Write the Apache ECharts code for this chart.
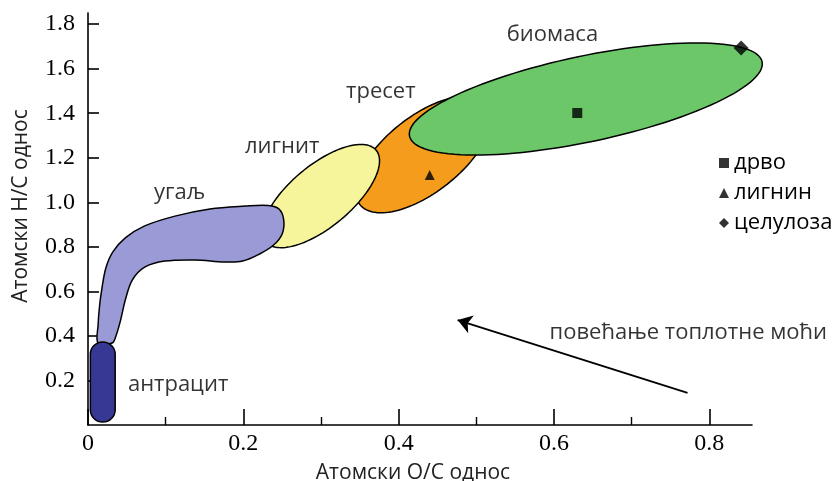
<!DOCTYPE html>
<html>
<head>
<meta charset="utf-8">
<script src="https://cdn.jsdelivr.net/npm/echarts@6/dist/echarts.min.js"></script>
<style>
html,body{margin:0;padding:0;background:#fff;}
#chart{width:840px;height:481px;}
</style>
</head>
<body>
<div id="chart"></div>
<script>
// ---- axis ticks ----
const xTicks = [0, 0.2, 0.4, 0.6, 0.8];
const xMinorTicks = [0.1, 0.3, 0.5, 0.7];
const yTicks = [0.2, 0.4, 0.6, 0.8, 1.0, 1.2, 1.4, 1.6, 1.8];

// ---- elliptical regions (O/C, H/C): centre and end of the long axis, width ratio ----
const ellipseNames = ['тресет', 'биомаса', 'лигнит'];
const ellipseCenterX = [0.432, 0.641, 0.300];
const ellipseCenterY = [1.215, 1.464, 1.028];
const ellipseTipX = [0.514, 0.868, 0.371];
const ellipseTipY = [1.440, 1.631, 1.234];
const ellipseWidthRatio = [0.47, 0.238, 0.43];

// ---- coal (угаљ) band outline ----
const coalX = [0.013, 0.013, 0.015, 0.018, 0.023, 0.032, 0.048, 0.073, 0.112, 0.157, 0.202, 0.232, 0.246, 0.252, 0.250, 0.239, 0.221, 0.199, 0.176, 0.138, 0.099, 0.073, 0.057, 0.048, 0.042, 0.036, 0.031];
const coalY = [0.368, 0.449, 0.539, 0.615, 0.705, 0.777, 0.840, 0.894, 0.938, 0.970, 0.983, 0.986, 0.970, 0.921, 0.858, 0.808, 0.768, 0.736, 0.732, 0.741, 0.736, 0.709, 0.651, 0.561, 0.471, 0.400, 0.368];

// ---- anthracite (антрацит) range ----
const anthraciteX = [0.003, 0.035];
const anthraciteY = [0.013, 0.373];

// ---- reference compounds ----
const compoundNames = ['дрво', 'лигнин', 'целулоза'];
const compoundX = [0.630, 0.440, 0.841];
const compoundY = [1.401, 1.123, 1.693];

// ---- region labels ----
const regionLabels = ['биомаса', 'тресет', 'лигнит', 'угаљ', 'антрацит', 'повећање топлотне моћи'];
const regionLabelX = [0.598, 0.377, 0.250, 0.118, 0.116, 0.773];
const regionLabelY = [1.751, 1.495, 1.248, 1.042, 0.180, 0.413];

// ---- arrow (tail -> head) ----
const arrowX = [0.772, 0.476];
const arrowY = [0.144, 0.471];

// ---- styles ----
const ellipseFills = ['#F59C1D', '#6CC768', '#F7F59C'];
const coalFill = '#9A9AD6';
const anthraciteFill = '#373794';
const compoundSymbols = ['rect', 'triangle', 'diamond'];
const compoundSizes = [10, 10, 15];
const sansFont = '"Open Sans", "Noto Sans", sans-serif';
const serifFont = '"Liberation Serif", "DejaVu Serif", serif';

const chart = echarts.init(document.getElementById('chart'), null, {renderer: 'canvas'});

const ellipseData = ellipseNames.map((n, i) => ({
  name: n,
  value: [ellipseCenterX[i], ellipseCenterY[i], ellipseTipX[i], ellipseTipY[i], ellipseWidthRatio[i]]
}));

const compoundSeries = compoundNames.map((n, i) => ({
  name: n,
  type: 'scatter',
  symbol: compoundSymbols[i],
  symbolSize: compoundSizes[i],
  itemStyle: {color: '#000'},
  data: [[compoundX[i], compoundY[i]]],
  z: 10
}));

const option = {
  animation: false,
  backgroundColor: '#fff',
  grid: {left: 88, right: 88, top: 13, bottom: 56, containLabel: false, outerBoundsMode: 'none'},
  legend: {
    data: compoundNames.map((n, i) => ({name: n, icon: compoundSymbols[i]})),
    orient: 'vertical',
    left: 714,
    top: 147,
    itemWidth: 10,
    itemHeight: 10,
    itemGap: 8,
    itemTextGap: 9,
    selectedMode: false,
    textStyle: {fontFamily: sansFont, fontSize: 22, color: '#000'}
  },
  xAxis: [{
    type: 'value',
    min: 0,
    max: 0.855,
    name: 'Атомски О/С однос',
    nameLocation: 'middle',
    nameGap: 38,
    nameTextStyle: {fontFamily: sansFont, fontSize: 21, color: '#222', padding: [0, 14, 0, 0]},
    axisLine: {show: true, lineStyle: {color: '#000', width: 1.6}},
    axisTick: {show: true, inside: true, length: 16, customValues: xTicks, lineStyle: {color: '#000', width: 1.6}},
    axisLabel: {
      customValues: xTicks,
      margin: 7,
      fontFamily: serifFont, fontSize: 24, color: '#000',
      formatter: v => (v === 0 ? '0' : v.toFixed(1))
    },
    splitLine: {show: false}
  }, {
    type: 'value',
    min: 0,
    max: 0.855,
    position: 'bottom',
    axisLine: {show: false},
    axisTick: {show: true, inside: true, length: 8, customValues: xMinorTicks, lineStyle: {color: '#000', width: 1.4}},
    axisLabel: {show: false},
    splitLine: {show: false}
  }],
  yAxis: {
    type: 'value',
    min: 0,
    max: 1.85,
    name: 'Атомски Н/С однос',
    nameLocation: 'middle',
    nameRotate: 90,
    nameGap: 56,
    nameTextStyle: {fontFamily: sansFont, fontSize: 21, color: '#222', padding: [0, 0, 0, 26]},
    axisLine: {show: true, lineStyle: {color: '#000', width: 1.6}},
    axisTick: {show: true, inside: true, length: 11, customValues: yTicks, lineStyle: {color: '#000', width: 1.6}},
    axisLabel: {
      customValues: yTicks,
      margin: 13,
      fontFamily: serifFont, fontSize: 24, color: '#000',
      formatter: v => v.toFixed(1)
    },
    splitLine: {show: false}
  },
  series: [
    {
      name: 'regions',
      type: 'custom',
      coordinateSystem: 'cartesian2d',
      encode: {x: [0, 2], y: [1, 3]},
      data: ellipseData,
      z: 2,
      renderItem: function (params, api) {
        const c = api.coord([api.value(0), api.value(1)]);
        const t = api.coord([api.value(2), api.value(3)]);
        const r = api.value(4);
        const ux = t[0] - c[0], uy = t[1] - c[1];
        const vx = -uy * r, vy = ux * r;
        const pts = [];
        const n = 120;
        for (let k = 0; k < n; k++) {
          const a = k / n * Math.PI * 2;
          pts.push([c[0] + ux * Math.cos(a) + vx * Math.sin(a), c[1] + uy * Math.cos(a) + vy * Math.sin(a)]);
        }
        return {
          type: 'polygon',
          shape: {points: pts},
          style: {fill: ellipseFills[params.dataIndex], stroke: '#000', lineWidth: 1.5}
        };
      }
    },
    {
      name: 'угаљ',
      type: 'custom',
      coordinateSystem: 'cartesian2d',
      encode: {x: 0, y: 1},
      data: coalX.map((x, i) => [x, coalY[i]]),
      z: 3,
      renderItem: function (params, api) {
        if (params.dataIndex !== 0) return null;
        const pts = coalX.map((x, i) => api.coord([x, coalY[i]]));
        return {
          type: 'polygon',
          shape: {points: pts, smooth: 0.35},
          style: {fill: coalFill, stroke: '#000', lineWidth: 1.5}
        };
      }
    },
    {
      name: 'антрацит',
      type: 'custom',
      coordinateSystem: 'cartesian2d',
      encode: {x: [0, 2], y: [1, 3]},
      data: [[anthraciteX[0], anthraciteY[0], anthraciteX[1], anthraciteY[1]]],
      z: 4,
      renderItem: function (params, api) {
        const p0 = api.coord([api.value(0), api.value(3)]);
        const p1 = api.coord([api.value(2), api.value(1)]);
        const w = p1[0] - p0[0], h = p1[1] - p0[1];
        return {
          type: 'rect',
          shape: {x: p0[0], y: p0[1], width: w, height: h, r: w / 2},
          style: {fill: anthraciteFill, stroke: '#000', lineWidth: 1.5}
        };
      }
    },
    ...compoundSeries,
    {
      name: 'arrow',
      type: 'lines',
      coordinateSystem: 'cartesian2d',
      symbol: ['none', 'arrow'],
      symbolSize: 14,
      lineStyle: {color: '#000', width: 1.8, opacity: 1},
      data: [{coords: [[arrowX[0], arrowY[0]], [arrowX[1], arrowY[1]]]}],
      z: 5
    },
    {
      name: 'labels',
      type: 'scatter',
      symbolSize: 1,
      itemStyle: {color: 'rgba(0,0,0,0)'},
      label: {
        show: true,
        position: 'inside',
        formatter: '{b}',
        fontFamily: sansFont,
        fontSize: 22,
        color: '#000',
        textBorderWidth: 0
      },
      data: regionLabels.map((n, i) => ({name: n, value: [regionLabelX[i], regionLabelY[i]]})),
      z: 11
    }
  ]
};
chart.setOption(option);
</script>
</body>
</html>
